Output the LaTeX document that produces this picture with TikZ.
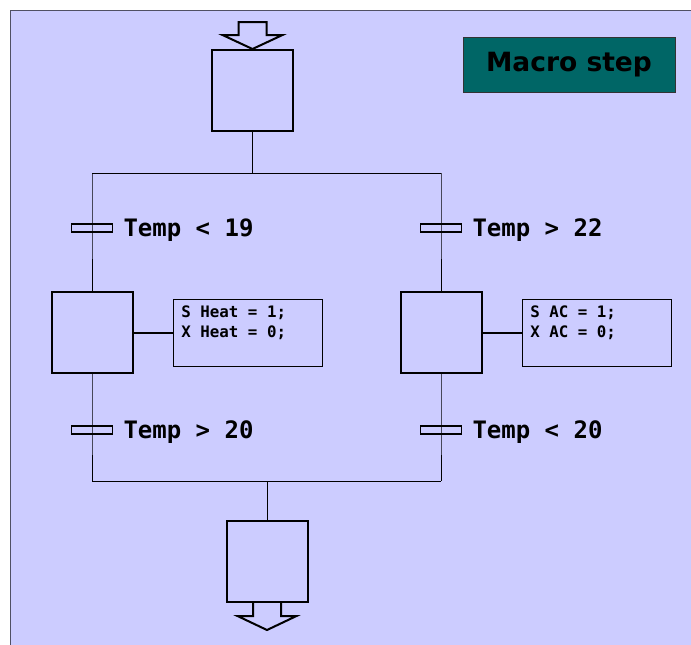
\documentclass[tikz,border=0pt]{standalone}
\usepackage{fontspec}
\usepackage{xcolor}
\usepackage{tikz}
\usetikzlibrary{positioning, calc}
\newfontfamily\codefont{DejaVu Sans Mono}
\newfontfamily\titlefont{DejaVu Sans}
\definecolor{sheetbg}{RGB}{204, 204, 255}
\definecolor{sheetedge}{RGB}{80, 80, 100}
\definecolor{macrofill}{RGB}{0, 102, 102}
\tikzset{
  stepblock/.style={
    rectangle, draw=black, line width=2pt,
    minimum width=81pt, minimum height=81pt, inner sep=0pt
  },
  transbar/.style={
    rectangle, draw=black, fill=sheetbg, line width=1.6pt,
    minimum width=41pt, minimum height=8pt, inner sep=0pt
  },
  translabel/.style={
    inner sep=0pt, text height=17pt, text depth=0pt,
    font=\codefont\bfseries\fontsize{24}{28}\selectfont
  },
  actionblock/.style={
    rectangle, draw=black, line width=0.8pt, inner xsep=8pt, inner ysep=7pt,
    font=\codefont\bfseries\fontsize{15.8}{20}\selectfont
  },
  titleblock/.style={
    rectangle, draw=black!80, fill=macrofill, line width=0.8pt,
    minimum width=212pt, minimum height=55pt, inner sep=0pt,
    font=\titlefont\bfseries\fontsize{26.5}{30}\selectfont
  },
  wireline/.style={draw=black, line width=1pt},
  actionlink/.style={draw=black, line width=2pt},
  portarrow/.style={draw=black, line width=2pt, fill=sheetbg, line join=miter}
}

\begin{document}
\begin{tikzpicture}[x=1pt, y=-1pt]

  % Sheet
  \useasboundingbox (0,0) rectangle (691,645);
  \fill[sheetbg] (10,10) rectangle (691,645);
  \draw[sheetedge, line width=1pt] (10,645) -- (10,10) -- (691,10);

  % Title
  \node[titleblock] (macro_title) at (569,64.5) {Macro step};

  % Steps
  \node[stepblock] (init_step) at (252.5,90.5) {};
  \node[stepblock] (heat_step) at (92,332.5) {};
  \node[stepblock] (ac_step) at (441,332.5) {};
  \node[stepblock] (final_step) at (267,561.5) {};

  % Transitions
  \node[transbar] (tr_heat_on) at (92,228) {};
  \node[transbar] (tr_ac_on) at (441,228) {};
  \node[transbar] (tr_heat_off) at (92,430) {};
  \node[transbar] (tr_ac_off) at (441,430) {};

  \node[translabel, right=10pt of tr_heat_on] (lbl_heat_on) {Temp < 19};
  \node[translabel, right=10pt of tr_ac_on] (lbl_ac_on) {Temp > 22};
  \node[translabel, right=10pt of tr_heat_off] (lbl_heat_off) {Temp > 20};
  \node[translabel, right=10pt of tr_ac_off] (lbl_ac_off) {Temp < 20};

  % Actions
  \node[actionblock, right=39.5pt of heat_step] (act_heat) {\parbox[t][53pt][t]{133pt}{S Heat = 1;\\X Heat = 0;}};
  \node[actionblock, right=39.5pt of ac_step] (act_ac) {\parbox[t][53pt][t]{133pt}{S AC = 1;\\X AC = 0;}};

  \draw[actionlink] (heat_step) -- (act_heat);
  \draw[actionlink] (ac_step) -- (act_ac);

  % Divergence / convergence
  \coordinate (div_l) at (92,173);
  \coordinate (div_r) at (441,173);
  \coordinate (div_c) at (init_step.south |- div_l);
  \coordinate (conv_l) at (92,481);
  \coordinate (conv_r) at (441,481);
  \coordinate (conv_c) at (final_step.north |- conv_l);

  \draw[wireline] (init_step.south) -- (div_c);
  \draw[wireline] (div_l) -- (div_r);
  \draw[wireline] (div_l) -- (tr_heat_on.center) -- (heat_step.north);
  \draw[wireline] (div_r) -- (tr_ac_on.center) -- (ac_step.north);
  \draw[wireline] (heat_step.south) -- (tr_heat_off.center) -- (conv_l);
  \draw[wireline] (ac_step.south) -- (tr_ac_off.center) -- (conv_r);
  \draw[wireline] (conv_l) -- (conv_r);
  \draw[wireline] (conv_c) -- (final_step.north);

  % In / out arrows
  \draw[portarrow] (init_step.north) -- ++(-30,-14) -- ++(16,0) -- ++(0,-13)
    -- ++(28,0) -- ++(0,13) -- ++(16,0) -- cycle;
  \draw[portarrow] ($(final_step.south)+(-14,0)$) -- ++(0,13) -- ++(-15.5,0)
    -- ++(29.5,14) -- ++(29.5,-14) -- ++(-15.5,0) -- ++(0,-13);

\end{tikzpicture}
\end{document}
